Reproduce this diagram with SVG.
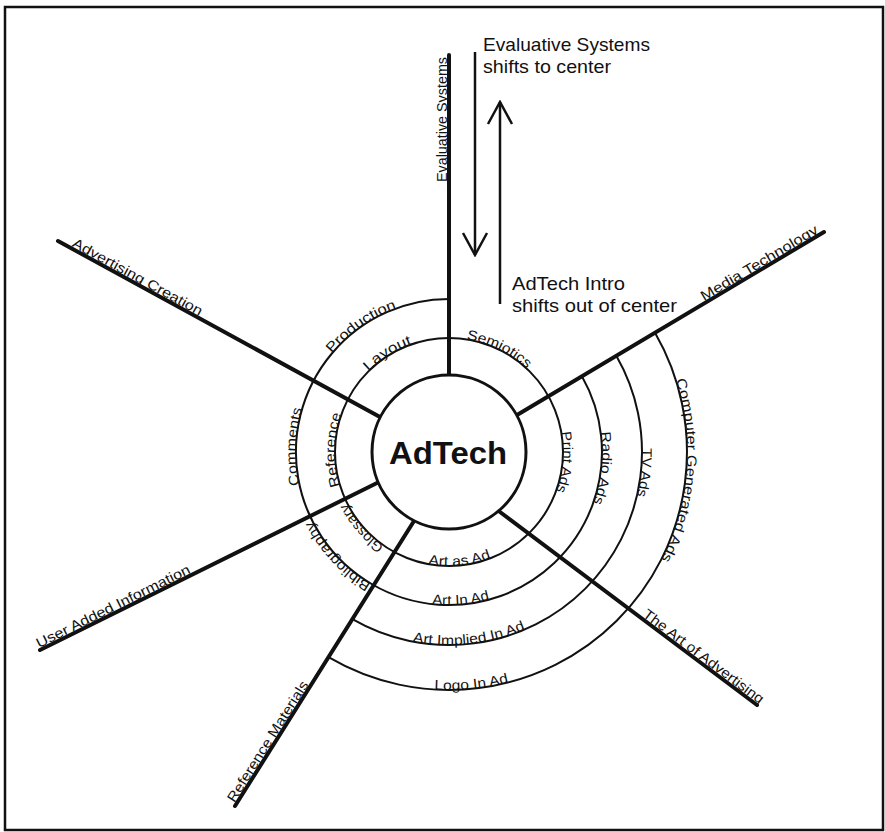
<svg xmlns="http://www.w3.org/2000/svg" width="885" height="832" viewBox="0 0 885 832">
<style>
.frame{fill:#fff;stroke:#111;stroke-width:2.5}
.spoke{stroke:#111;stroke-width:4;stroke-linecap:round;fill:none}
.ring{stroke:#111;stroke-width:2;fill:none}
.hub{stroke:#111;stroke-width:3;fill:#fff}
.lbl{font-family:"Liberation Sans",Arial,sans-serif;font-size:14px;fill:#111}
.note{font-family:"Liberation Sans",Arial,sans-serif;font-size:19px;fill:#111}
.title{font-family:"Liberation Sans",Arial,sans-serif;font-size:32px;font-weight:bold;fill:#111}
.arrow{stroke:#111;stroke-width:2.5;fill:none;marker-end:url(#head)}
.guide{fill:none;stroke:none}
</style>
<defs>
<marker id="head" markerUnits="userSpaceOnUse" viewBox="-24 -14 26 28" refX="0" refY="0" markerWidth="26" markerHeight="28" orient="auto">
<path d="M-22,-12 L0,0 L-22,12" fill="none" stroke="#111" stroke-width="2.5"/>
</marker>
<path id="p-layout" d="M340.6,416.8 A114,114 0 0 1 464.9,339.1"/>
<path id="p-semiotics" d="M421.4,341.4 A114,114 0 0 1 553.1,405.6"/>
<path id="p-print" d="M542.4,386.6 A114,114 0 0 1 529.6,532.6"/>
<path id="p-artas" d="M384.4,545.9 A114,114 0 0 0 530.3,531.9"/>
<path id="p-glossary" d="M431.2,564.6 A114,114 0 0 1 335.0,454.0"/>
<path id="p-reference" d="M360.4,523.7 A114,114 0 0 1 363.0,377.2"/>
<path id="p-production" d="M301.2,412.4 A153,153 0 0 1 462.3,299.6"/>
<path id="p-comments" d="M328.4,546.2 A153,153 0 0 1 335.3,349.6"/>
<path id="p-biblio" d="M443.7,604.9 A153,153 0 0 1 296.1,446.7"/>
<path id="p-artin" d="M360.2,576.6 A153,153 0 0 0 556.2,561.1"/>
<path id="p-radio" d="M575.8,366.4 A153,153 0 0 1 555.3,562.1"/>
<path id="p-tv" d="M609.0,344.1 A193,193 0 0 1 583.1,590.8"/>
<path id="p-implied" d="M328.1,602.4 A193,193 0 0 0 599.4,572.9"/>
<path id="p-computer" d="M584.1,256.1 A238,238 0 0 1 551.1,667.0"/>
<path id="p-logo" d="M314.2,648.1 A238,238 0 0 0 618.8,618.8"/>
</defs>

<rect class="frame" x="5" y="7" width="878" height="823"/>

<g id="rings">
<circle class="ring" cx="449" cy="452" r="114"/>
<path class="ring" d="M449,299 A153,153 0 1 0 581.9,376.3"/>
<path class="ring" d="M616.3,355.8 A193,193 0 0 1 352.4,619.1"/>
<path class="ring" d="M655.0,332.8 A238,238 0 0 1 328.5,657.2"/>
</g>

<g id="connectors">
<line class="spoke" x1="449" y1="55" x2="449" y2="376"/>
<line class="spoke" x1="517" y1="415" x2="824" y2="232"/>
<line class="spoke" x1="500" y1="512" x2="757" y2="705"/>
<line class="spoke" x1="414" y1="521" x2="235" y2="806"/>
<line class="spoke" x1="377" y1="483" x2="40" y2="650"/>
<line class="spoke" x1="380" y1="417" x2="58" y2="241"/>
</g>

<g id="hub">
<circle class="hub" cx="449" cy="452" r="77"/>
<text class="title" x="448" y="464" text-anchor="middle" textLength="118" lengthAdjust="spacingAndGlyphs">AdTech</text>
</g>

<g id="ring-labels" class="lbl">
<text><textPath href="#p-layout" startOffset="50%" text-anchor="middle" textLength="52" lengthAdjust="spacingAndGlyphs">Layout</textPath></text>
<text><textPath href="#p-semiotics" startOffset="50%" text-anchor="middle" textLength="68" lengthAdjust="spacingAndGlyphs">Semiotics</textPath></text>
<text><textPath href="#p-print" startOffset="50%" text-anchor="middle" textLength="60" lengthAdjust="spacingAndGlyphs">Print Ads</textPath></text>
<text><textPath href="#p-artas" startOffset="50%" text-anchor="middle" textLength="64" lengthAdjust="spacingAndGlyphs">Art as Ad</textPath></text>
<text><textPath href="#p-glossary" startOffset="50%" text-anchor="middle" textLength="57" lengthAdjust="spacingAndGlyphs">Glossary</textPath></text>
<text><textPath href="#p-reference" startOffset="50%" text-anchor="middle" textLength="73" lengthAdjust="spacingAndGlyphs">Reference</textPath></text>
<text><textPath href="#p-production" startOffset="50%" text-anchor="middle" textLength="80" lengthAdjust="spacingAndGlyphs">Production</textPath></text>
<text><textPath href="#p-comments" startOffset="50%" text-anchor="middle" textLength="77" lengthAdjust="spacingAndGlyphs">Comments</textPath></text>
<text><textPath href="#p-biblio" startOffset="50%" text-anchor="middle" textLength="87" lengthAdjust="spacingAndGlyphs">Bibliography</textPath></text>
<text><textPath href="#p-artin" startOffset="50%" text-anchor="middle" textLength="58" lengthAdjust="spacingAndGlyphs">Art In Ad</textPath></text>
<text><textPath href="#p-radio" startOffset="50%" text-anchor="middle" textLength="72" lengthAdjust="spacingAndGlyphs">Radio Ads</textPath></text>
<text><textPath href="#p-tv" startOffset="50%" text-anchor="middle" textLength="48" lengthAdjust="spacingAndGlyphs">TV Ads</textPath></text>
<text><textPath href="#p-implied" startOffset="50%" text-anchor="middle" textLength="115" lengthAdjust="spacingAndGlyphs">Art Implied In Ad</textPath></text>
<text><textPath href="#p-computer" startOffset="50%" text-anchor="middle" textLength="185" lengthAdjust="spacingAndGlyphs">Computer Generated Ads</textPath></text>
<text><textPath href="#p-logo" startOffset="50%" text-anchor="middle" textLength="75" lengthAdjust="spacingAndGlyphs">Logo In Ad</textPath></text>
</g>

<g id="spoke-labels" class="lbl">
<text transform="translate(447,182) rotate(-90)" textLength="125" lengthAdjust="spacingAndGlyphs">Evaluative Systems</text>
<text transform="translate(704.1,301.2) rotate(-30.8)" textLength="134" lengthAdjust="spacingAndGlyphs">Media Technology</text>
<text transform="translate(642,616) rotate(36.9)" textLength="147" lengthAdjust="spacingAndGlyphs">The Art of Advertising</text>
<text transform="translate(234.4,803.2) rotate(-57.87)" textLength="140" lengthAdjust="spacingAndGlyphs">Reference Materials</text>
<text transform="translate(39.1,648.2) rotate(-26.36)" textLength="170" lengthAdjust="spacingAndGlyphs">User Added Information</text>
<text transform="translate(71.3,246) rotate(28.66)" textLength="146" lengthAdjust="spacingAndGlyphs">Advertising Creation</text>
</g>

<g id="shift-note">
<line class="arrow" x1="475" y1="52" x2="475" y2="255"/>
<line class="arrow" x1="500" y1="304" x2="500" y2="102"/>
<text class="note" x="483" y="51" textLength="167" lengthAdjust="spacingAndGlyphs">Evaluative Systems</text>
<text class="note" x="483" y="73" textLength="128" lengthAdjust="spacingAndGlyphs">shifts to center</text>
<text class="note" x="512" y="290" textLength="113" lengthAdjust="spacingAndGlyphs">AdTech Intro</text>
<text class="note" x="512" y="312" textLength="165" lengthAdjust="spacingAndGlyphs">shifts out of center</text>
</g>
</svg>
